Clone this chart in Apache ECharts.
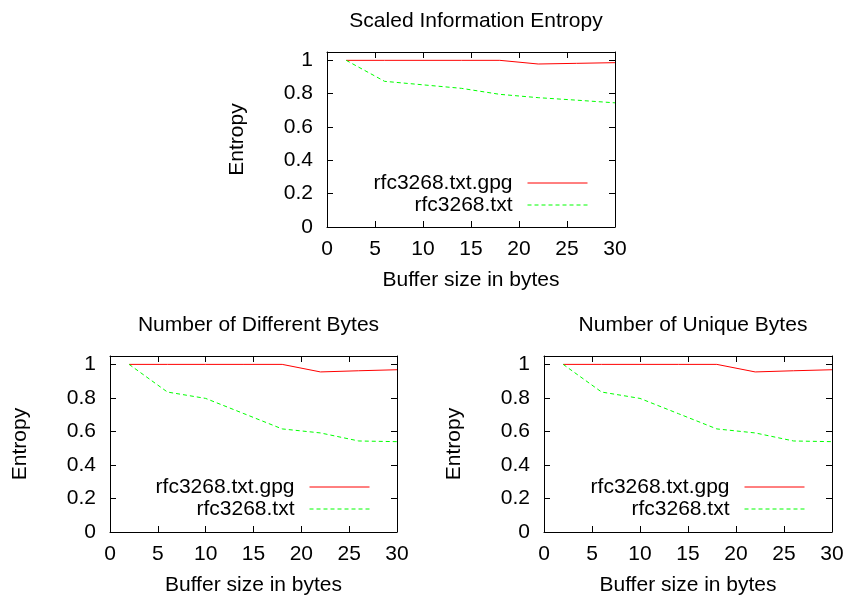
<!DOCTYPE html>
<html>
<head>
<meta charset="utf-8">
<script src="https://cdn.jsdelivr.net/npm/echarts@6/dist/echarts.min.js"></script>
<style>
   html, body { margin: 0; padding: 0; background: #fff; }
   #chart { width: 850px; height: 602px; }
</style>
</head>
<body>
<div id="chart"></div>
<script>
// buffer sizes (bytes) sampled
const bufferSizes = [2, 6, 10, 14, 18, 22, 26, 30];
const seriesNames = ["rfc3268.txt.gpg", "rfc3268.txt"];
const yTicks = [0, 0.2, 0.4, 0.6, 0.8, 1];

// Scaled Information Entropy
const entropyGpg = [1, 1, 1, 1, 1, 0.978, 0.982, 0.986];
const entropyTxt = [1, 0.874, 0.853, 0.832, 0.796, 0.776, 0.761, 0.745];

// Number of Different Bytes
const differentGpg = [1, 1, 1, 1, 1, 0.955, 0.962, 0.968];
const differentTxt = [1, 0.835, 0.797, 0.706, 0.615, 0.591, 0.543, 0.539];

// Number of Unique Bytes
const uniqueGpg = [1, 1, 1, 1, 1, 0.955, 0.962, 0.968];
const uniqueTxt = [1, 0.835, 0.797, 0.706, 0.615, 0.591, 0.543, 0.539];

const panels = [
   { title: "Scaled Information Entropy", gpg: entropyGpg, txt: entropyTxt,
     grid: { left: 327, top: 52, width: 288, height: 175 }, legendRight: 262, legendTop: 172 },
   { title: "Number of Different Bytes", gpg: differentGpg, txt: differentTxt,
     grid: { left: 110, top: 356, width: 287, height: 176 }, legendRight: 480, legendTop: 476 },
   { title: "Number of Unique Bytes", gpg: uniqueGpg, txt: uniqueTxt,
     grid: { left: 544, top: 356, width: 288, height: 176 }, legendRight: 45, legendTop: 476 },
];

const font = "'Liberation Sans', Arial, sans-serif";
const fs = 21;

const toPairs = (ys) => bufferSizes.map((x, i) => [x, ys[i]]);

const chart = echarts.init(document.getElementById("chart"), null, { renderer: "canvas" });

const titles = [];
const grids = [];
const xAxes = [];
const yAxes = [];
const legends = [];
const series = [];

panels.forEach((p, i) => {
   grids.push({ ...p.grid, containLabel: false });
   titles.push({
      text: p.title,
      left: p.grid.left + p.grid.width / 2,
      textAlign: "center",
      top: p.grid.top - 46,
      textStyle: { fontFamily: font, fontSize: fs, fontWeight: "normal", color: "#000" },
   });

   const tick = { show: true, inside: true, length: 6, lineStyle: { color: "#000", width: 1 } };
   const line = { show: true, onZero: false, lineStyle: { color: "#000", width: 1 } };

   xAxes.push({
      type: "value", gridIndex: i, min: 0, max: 30, interval: 5, position: "bottom",
      axisLine: line, axisTick: tick, splitLine: { show: false },
      axisLabel: { fontFamily: font, fontSize: fs, color: "#000", margin: 12 },
      name: "Buffer size in bytes", nameLocation: "middle", nameGap: 43,
      nameTextStyle: { fontFamily: font, fontSize: fs, color: "#000" },
   });
   xAxes.push({
      type: "value", gridIndex: i, min: 0, max: 30, interval: 5, position: "top",
      axisLine: line, axisTick: tick, splitLine: { show: false }, axisLabel: { show: false },
   });
   yAxes.push({
      type: "value", gridIndex: i, min: 0, max: 1.05, position: "left",
      axisLine: line, splitLine: { show: false },
      axisTick: { ...tick, customValues: yTicks },
      axisLabel: { fontFamily: font, fontSize: fs, color: "#000", margin: 14, customValues: yTicks },
      name: "Entropy", nameLocation: "middle", nameGap: 79, nameRotate: 90,
      nameTextStyle: { fontFamily: font, fontSize: fs, color: "#000" },
   });
   yAxes.push({
      type: "value", gridIndex: i, min: 0, max: 1.05, position: "right",
      axisLine: line, splitLine: { show: false },
      axisTick: { ...tick, customValues: yTicks },
      axisLabel: { show: false },
   });

   legends.push({
      data: seriesNames,
      orient: "vertical",
      align: "right",
      right: p.legendRight,
      top: p.legendTop,
      padding: 0,
      itemGap: 0,
      itemWidth: 60,
      itemHeight: 3,
      selectedMode: false,
      itemStyle: { opacity: 0 },
      lineStyle: { width: 1 },
      textStyle: { fontFamily: font, fontSize: fs, color: "#000", lineHeight: 22, padding: [0, 10, 0, 0] },
   });

   series.push({
      name: seriesNames[0], type: "line", xAxisIndex: i * 2, yAxisIndex: i * 2,
      data: toPairs(p.gpg), symbol: "none", animation: false,
      lineStyle: { color: "#ff0000", width: 1 }, itemStyle: { color: "#ff0000" },
   });
   series.push({
      name: seriesNames[1], type: "line", xAxisIndex: i * 2, yAxisIndex: i * 2,
      data: toPairs(p.txt), symbol: "none", animation: false,
      lineStyle: { color: "#00ff00", width: 1, type: [4, 3] }, itemStyle: { color: "#00ff00" },
   });
});

chart.setOption({
   backgroundColor: "#fff",
   animation: false,
   title: titles,
   grid: grids,
   xAxis: xAxes,
   yAxis: yAxes,
   legend: legends,
   series: series,
});

window.addEventListener("resize", function () {
   chart.resize();
});
</script>
</body>
</html>
